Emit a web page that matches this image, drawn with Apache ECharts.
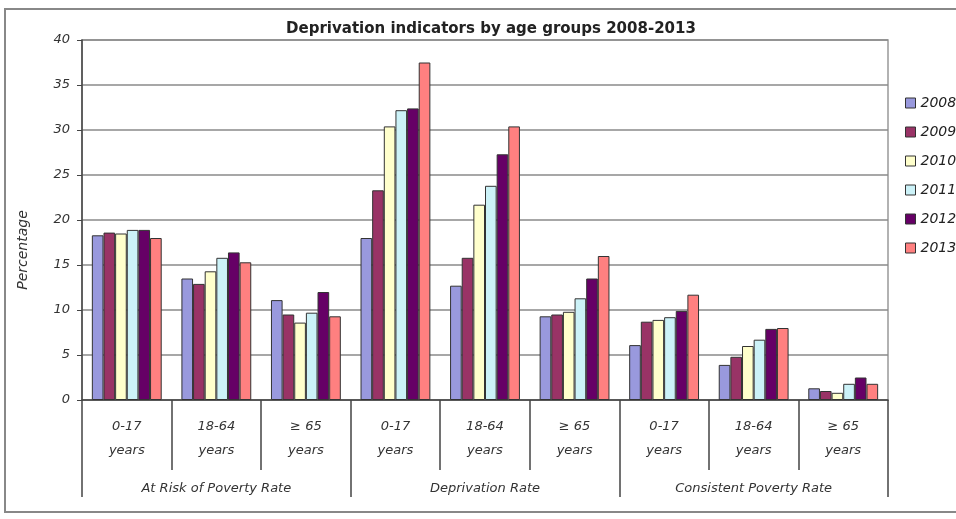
<!DOCTYPE html>
<html>
<head>
<meta charset="utf-8">
<script src="https://cdn.jsdelivr.net/npm/echarts@6/dist/echarts.min.js"></script>
<style>
  html, body { margin: 0; padding: 0; background: #fff; }
  #chart { width: 956px; height: 519px; }
</style>
</head>
<body>
<div id="chart"></div>
<script>
// age groups, repeated for each indicator
const subCategories = [
  '0-17\nyears', '18-64\nyears', '≥ 65\nyears',
  '0-17\nyears', '18-64\nyears', '≥ 65\nyears',
  '0-17\nyears', '18-64\nyears', '≥ 65\nyears'
]
const groupCategories = ['At Risk of Poverty Rate', 'Deprivation Rate', 'Consistent Poverty Rate']
const years = ['2008', '2009', '2010', '2011', '2012', '2013']

const y2008 = [18.3, 13.5, 11.1, 18.0, 12.7, 9.3, 6.1, 3.9, 1.3]
const y2009 = [18.6, 12.9, 9.5, 23.3, 15.8, 9.5, 8.7, 4.8, 1.0]
const y2010 = [18.5, 14.3, 8.6, 30.4, 21.7, 9.8, 8.9, 6.0, 0.8]
const y2011 = [18.9, 15.8, 9.7, 32.2, 23.8, 11.3, 9.2, 6.7, 1.8]
const y2012 = [18.9, 16.4, 12.0, 32.4, 27.3, 13.5, 9.9, 7.9, 2.5]
const y2013 = [18.0, 15.3, 9.3, 37.5, 30.4, 16.0, 11.7, 8.0, 1.8]

const yearValues = [y2008, y2009, y2010, y2011, y2012, y2013]
const colors = ['#9999dd', '#993366', '#ffffcc', '#ccf2f8', '#660066', '#ff8080']

const font = '"DejaVu Sans", Arial, sans-serif'
const chart = echarts.init(document.getElementById('chart'))

const series = years.map((name, i) => ({
  name: name,
  type: 'bar',
  xAxisIndex: 0,
  barGap: 0,
  barCategoryGap: '22%',
  data: yearValues[i],
  itemStyle: {
    color: colors[i],
    borderColor: '#333',
    borderWidth: 1
  }
}))

const option = {
  animation: false,
  title: {
    text: 'Deprivation indicators by age groups 2008-2013',
    left: 486,
    textAlign: 'center',
    top: 17,
    textStyle: { fontFamily: font, fontSize: 15, fontWeight: 'bold', color: '#222' }
  },
  legend: {
    data: years,
    orient: 'vertical',
    left: 900,
    top: 91,
    itemWidth: 10,
    itemHeight: 10,
    itemGap: 15,
    icon: 'rect',
    itemStyle: { borderColor: '#333', borderWidth: 1 },
    textStyle: { fontFamily: font, fontSize: 14, fontStyle: 'italic', color: '#222' }
  },
  grid: {
    left: 82,
    right: 68,
    top: 40,
    bottom: 119,
    show: true,
    borderColor: '#999',
    borderWidth: 1.5
  },
  xAxis: [
    {
      type: 'category',
      data: subCategories,
      position: 'bottom',
      axisLine: { show: true, lineStyle: { color: '#444', width: 1.5 } },
      axisTick: { show: true, interval: 0, length: 70, lineStyle: { color: '#444', width: 1.5 } },
      axisLabel: {
        interval: 0,
        margin: 15,
        lineHeight: 24,
        fontFamily: font,
        fontSize: 13,
        fontStyle: 'italic',
        color: '#333'
      }
    },
    {
      type: 'category',
      data: groupCategories,
      position: 'bottom',
      offset: 0,
      axisLine: { show: false },
      axisTick: { show: true, interval: 0, length: 97, lineStyle: { color: '#444', width: 1.5 } },
      axisLabel: {
        interval: 0,
        margin: 82,
        fontFamily: font,
        fontSize: 13,
        fontStyle: 'italic',
        color: '#333'
      }
    }
  ],
  yAxis: {
    type: 'value',
    min: 0,
    max: 40,
    interval: 5,
    name: 'Percentage',
    nameLocation: 'middle',
    nameRotate: 90,
    nameGap: 52,
    nameTextStyle: { fontFamily: font, fontSize: 14, fontStyle: 'italic', color: '#333', padding: [0, 60, 0, 0] },
    axisLine: { show: true, lineStyle: { color: '#444', width: 1.5 } },
    axisTick: { show: true, length: 5, lineStyle: { color: '#444' } },
    axisLabel: { margin: 12, fontFamily: font, fontSize: 13, fontStyle: 'italic', color: '#333' },
    splitLine: { lineStyle: { color: '#8a8a8a', width: 1.5 } }
  },
  graphic: [
    {
      type: 'rect',
      shape: { x: 5, y: 9, width: 960, height: 503 },
      style: { fill: 'none', stroke: '#888', lineWidth: 2 },
      silent: true
    }
  ],
  series: series
}

chart.setOption(option)
</script>
</body>
</html>
